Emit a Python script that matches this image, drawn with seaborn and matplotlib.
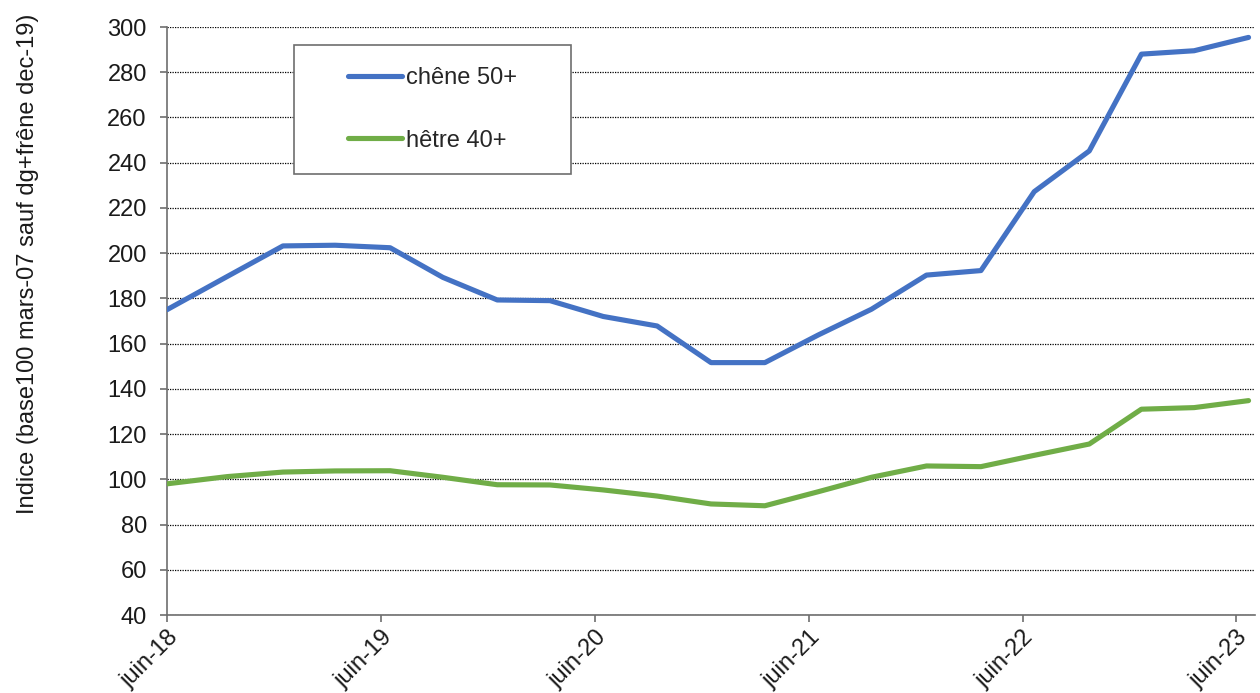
import numpy as np
import pandas as pd
import matplotlib
matplotlib.use("Agg")
import matplotlib.pyplot as plt
from matplotlib.patches import Rectangle
from matplotlib.transforms import ScaledTranslation
import seaborn as sns

# ---- data ----
dates = ["2018-06-01", "2018-09-12", "2018-12-16", "2019-03-15", "2019-06-17",
         "2019-09-15", "2019-12-17", "2020-03-16", "2020-06-15", "2020-09-15",
         "2020-12-16", "2021-03-18", "2021-06-17", "2021-09-16", "2021-12-19",
         "2022-03-22", "2022-06-21", "2022-09-23", "2022-12-21", "2023-03-21",
         "2023-06-22"]
chene = [175.0, 189.7, 203.2, 203.5, 202.4, 189.3, 179.3, 179.0, 172.0, 167.8,
         151.6, 151.6, 163.8, 175.2, 190.3, 192.3, 227.2, 245.2, 288.0, 289.5,
         295.4]
hetre = [98.0, 101.2, 103.2, 103.7, 103.8, 100.9, 97.6, 97.5, 95.3, 92.6,
         89.1, 88.3, 94.5, 100.9, 105.9, 105.6, 110.6, 115.6, 131.0, 131.7,
         134.8]
series_names = ["chêne 50+", "hêtre 40+"]
tick_dates = ["2018-06-01", "2019-06-01", "2020-06-01", "2021-06-01",
              "2022-06-01", "2023-06-01"]
tick_labels = ["juin-18", "juin-19", "juin-20", "juin-21", "juin-22", "juin-23"]
y_ticks = list(range(40, 301, 20))
y_label = "Indice (base100 mars-07 sauf dg+frêne dec-19)"

# ---- frame ----
df = pd.DataFrame({
    "date": pd.to_datetime(dates * 2),
    "valeur": chene + hetre,
    "serie": [series_names[0]] * len(dates) + [series_names[1]] * len(dates),
})

sns.set_theme(style="white")
plt.rcParams["font.family"] = ["Liberation Sans", "DejaVu Sans"]

FS = 17
fig = plt.figure(figsize=(12.6, 6.93), dpi=100)
ax = fig.add_axes([167 / 1260, 1 - 615 / 693, (1255 - 167) / 1260, (615 - 27) / 693])

palette = {series_names[0]: "#4472C4", series_names[1]: "#70AD47"}
sns.lineplot(data=df, x="date", y="valeur", hue="serie", palette=palette,
             linewidth=3.7, ax=ax, legend=True, zorder=3)

ax.set_xlim(pd.Timestamp("2018-06-01"), pd.Timestamp("2023-07-03"))
ax.set_ylim(40, 300)
ax.set_yticks(y_ticks)
ax.set_yticklabels([str(v) for v in y_ticks], fontsize=FS, color="#1a1a1a")
ax.set_xticks(pd.to_datetime(tick_dates))
ax.set_xticklabels(tick_labels, fontsize=FS, color="#1a1a1a", rotation=45,
                   ha="right", rotation_mode="anchor")
for lab in ax.get_xticklabels():
    lab.set_transform(lab.get_transform() +
                      ScaledTranslation(6 / 100, 0, fig.dpi_scale_trans))
ax.set_xlabel("")
ax.set_ylabel("")

ax.yaxis.grid(True, linestyle=(0, (1, 1)), linewidth=0.9, color="#000000")
ax.xaxis.grid(False)
ax.set_axisbelow(True)

for side in ["top", "right"]:
    ax.spines[side].set_visible(False)
for side in ["left", "bottom"]:
    ax.spines[side].set_color("#6e6e6e")
    ax.spines[side].set_linewidth(1.2)

ax.tick_params(axis="both", which="major", direction="out", length=5,
               width=1.2, color="#6e6e6e", left=True, bottom=True)
ax.tick_params(axis="y", pad=9.5)
ax.tick_params(axis="x", pad=3)

# legend box
x0 = (294 - 167) / 1088
x1 = (571 - 167) / 1088
y0 = (615 - 174) / 588
y1 = (615 - 45) / 588
ax.add_patch(Rectangle((x0, y0), x1 - x0, y1 - y0, transform=ax.transAxes,
                       facecolor="white", edgecolor="#6e6e6e", linewidth=1.2,
                       zorder=4))
leg = ax.legend(loc="center", bbox_to_anchor=((x0 + x1) / 2, (y0 + y1) / 2),
                frameon=False, fontsize=FS, handlelength=2.3,
                handletextpad=0.17, labelspacing=1.7)
leg.set_zorder(5)
for line in leg.get_lines():
    line.set_linewidth(3.7)
    line.set_solid_capstyle("round")

fig.text(28 / 1260, 1 - 264 / 693, y_label, rotation=90, ha="center",
         va="center", fontsize=FS, color="#1a1a1a")

fig.savefig("out.png", dpi=100)
